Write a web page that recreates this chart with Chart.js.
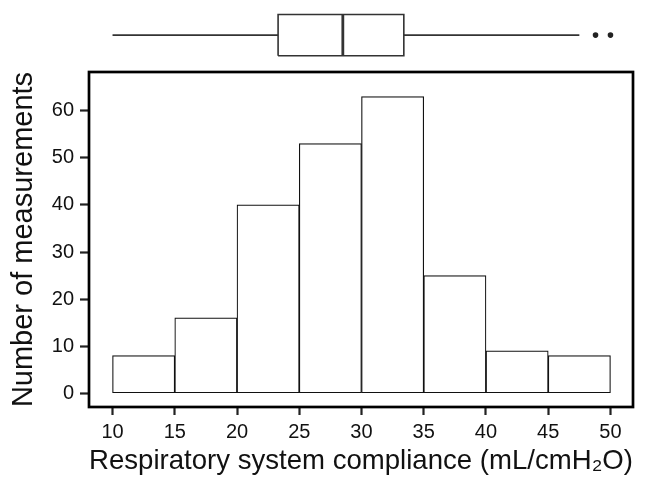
<!DOCTYPE html>
<html>
<head>
<meta charset="utf-8">
<script src="https://cdn.jsdelivr.net/npm/chart.js@4/dist/chart.umd.min.js"></script>
<style>
  body { margin: 0; background: #fff; }
  #wrap { position: relative; width: 653px; height: 478px; }
  #histBox { position: absolute; left: 0; top: 0; width: 653px; height: 478px; }
  #boxBox { position: absolute; left: 0; top: 0; width: 653px; height: 70px; }
</style>
</head>
<body>
<div id="wrap">
  <div id="histBox"><canvas id="histChart"></canvas></div>
  <div id="boxBox"><canvas id="boxChart"></canvas></div>
</div>
<script>
// histogram bins (edges) and counts
const binEdges = [10, 15, 20, 25, 30, 35, 40, 45, 50];
const counts = [8, 16, 40, 53, 63, 25, 9, 8];
const xTicks = [10, 15, 20, 25, 30, 35, 40, 45, 50];
const yTicks = [0, 10, 20, 30, 40, 50, 60];

// boxplot summary
const whiskers = [10, 47.5];
const quartiles = [23.3, 28.5, 33.4]; // q1, median, q3
const outliers = [48.8, 50];

const X_MIN = 8.11, X_MAX = 51.81;
const FONT = '"Liberation Sans", Arial, sans-serif';
const INK = '#111';

Chart.defaults.font.family = FONT;
Chart.defaults.color = '#111';

const barData = counts.map((c, i) => ({ x: (binEdges[i] + binEdges[i + 1]) / 2, y: c }));

// thick frame around the plot area
const framePlugin = {
    id: 'frame',
    afterDraw(chart) {
        const a = chart.chartArea;
        const ctx = chart.ctx;
        ctx.save();
        ctx.strokeStyle = '#000';
        ctx.lineWidth = 2.7;
        ctx.strokeRect(a.left, a.top, a.right - a.left, a.bottom - a.top);
        ctx.restore();
    }
};

new Chart(document.getElementById('histChart'), {
    type: 'bar',
    data: {
        datasets: [{
            data: barData,
            backgroundColor: '#fff',
            borderColor: INK,
            borderWidth: 1.2,
            borderSkipped: false,
            barPercentage: 1,
            categoryPercentage: 1
        }]
    },
    options: {
        responsive: true,
        maintainAspectRatio: false,
        animation: false,
        layout: { padding: { top: 72, right: 20, left: 0, bottom: 0 } },
        plugins: { legend: { display: false }, tooltip: { enabled: false } },
        scales: {
            x: {
                type: 'linear',
                offset: false,
                min: X_MIN,
                max: X_MAX,
                afterBuildTicks: s => { s.ticks = xTicks.map(v => ({ value: v })); },
                afterFit: s => { s.height = 71; },
                ticks: { font: { size: 20 }, color: '#111', padding: 5, maxRotation: 0, callback: v => String(v) },
                grid: { offset: false, drawOnChartArea: false, drawTicks: true, tickLength: 8, tickWidth: 2.2, tickColor: '#222' },
                border: { display: false },
                title: {
                    display: true,
                    text: 'Respiratory system compliance (mL/cmH₂O)',
                    font: { size: 28.5 },
                    color: '#111',
                    padding: { top: 0, bottom: 0 }
                }
            },
            y: {
                min: -2.91,
                max: 68.22,
                afterBuildTicks: s => { s.ticks = yTicks.map(v => ({ value: v })); },
                afterFit: s => { s.width = 89; },
                ticks: { font: { size: 20 }, color: '#111', padding: 6, callback: v => String(v) },
                grid: { drawOnChartArea: false, drawTicks: true, tickLength: 9, tickWidth: 2.2, tickColor: '#222' },
                border: { display: false },
                title: {
                    display: true,
                    text: 'Number of measurements',
                    font: { size: 29 },
                    color: '#111',
                    padding: { top: 7, bottom: 0 }
                }
            }
        }
    },
    plugins: [framePlugin]
});

// boxplot above the histogram, sharing the same x range
const [q1, med, q3] = quartiles;
const lineStyle = { showLine: true, pointRadius: 0, borderColor: '#333', fill: false };

new Chart(document.getElementById('boxChart'), {
    type: 'scatter',
    data: {
        datasets: [
            { ...lineStyle, borderWidth: 1.6, data: [{ x: whiskers[0], y: 0 }, { x: q1, y: 0 }] },
            { ...lineStyle, borderWidth: 1.6, data: [{ x: q3, y: 0 }, { x: whiskers[1], y: 0 }] },
            { ...lineStyle, borderWidth: 1.6, data: [
                { x: q1, y: -1 }, { x: q3, y: -1 }, { x: q3, y: 1 }, { x: q1, y: 1 }, { x: q1, y: -1 }
            ] },
            { ...lineStyle, borderWidth: 2.8, data: [{ x: med, y: -1 }, { x: med, y: 1 }] },
            {
                data: outliers.map(v => ({ x: v, y: 0 })),
                pointRadius: 2.8,
                pointBackgroundColor: '#222',
                pointBorderWidth: 0
            }
        ]
    },
    options: {
        responsive: true,
        maintainAspectRatio: false,
        animation: false,
        layout: { padding: { left: 89, right: 20, top: 0, bottom: 0 }, autoPadding: false },
        plugins: { legend: { display: false }, tooltip: { enabled: false } },
        scales: {
            x: { type: 'linear', min: X_MIN, max: X_MAX, display: false },
            y: { min: -1.69, max: 1.70, display: false }
        }
    }
});
</script>
</body>
</html>
